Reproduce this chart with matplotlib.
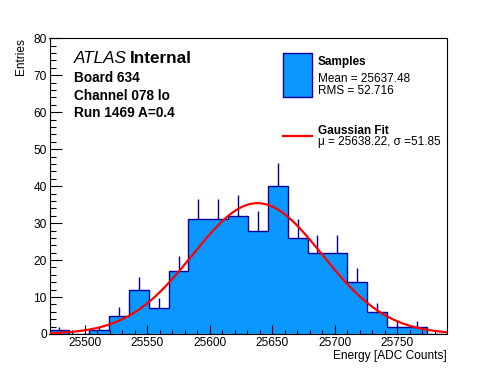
import numpy as np
import matplotlib
matplotlib.use("Agg")
import matplotlib.pyplot as plt
from matplotlib.ticker import MultipleLocator
from matplotlib.patches import Rectangle
from matplotlib.lines import Line2D

# ---- data ----
x_min = 25471.6
x_max = 25789.6
counts = [1, 0, 1, 5, 12, 7, 17, 31, 31, 32, 28, 40, 26, 22, 22, 14, 6, 2, 2, 0]
fit_mu = 25638.22
fit_sigma = 51.85
fit_amp = 35.4
y_max = 80

title_lines = ["Board 634", "Channel 078 lo", "Run 1469 A=0.4"]
legend_samples = ["Samples", "Mean = 25637.48", "RMS = 52.716"]
legend_fit = ["Gaussian Fit", "\u03bc = 25638.22, \u03c3 =51.85"]
xlabel = "Energy [ADC Counts]"
ylabel = "Entries"

FILL = "#0a98ff"
EDGE = "#000099"
RED = "#ff0000"
FONT = "Liberation Sans"

W, H = 496, 372
fig = plt.figure(figsize=(W / 100, H / 100), dpi=100)
L, R, T, B = 49.5, 446.5, 38.3, 334.0
ax = fig.add_axes([L / W, 1 - B / H, (R - L) / W, (B - T) / H])

counts = np.array(counts, dtype=float)
edges = np.linspace(x_min, x_max, len(counts) + 1)
centers = 0.5 * (edges[:-1] + edges[1:])

ax.stairs(counts, edges, fill=True, color=FILL, lw=0, zorder=1)
ax.stairs(counts, edges, color=EDGE, lw=1.0, zorder=2)
errs = np.sqrt(counts)
mask = counts > 0
ax.vlines(centers[mask], counts[mask], counts[mask] + errs[mask], color=EDGE, lw=1.0, zorder=2)

xs = np.linspace(x_min, x_max, 400)
ax.plot(xs, fit_amp * np.exp(-0.5 * ((xs - fit_mu) / fit_sigma) ** 2), color=RED, lw=1.6, zorder=3)

ax.set_xlim(x_min, x_max)
ax.set_ylim(0, y_max)
ax.xaxis.set_major_locator(MultipleLocator(50))
ax.xaxis.set_minor_locator(MultipleLocator(10))
ax.yaxis.set_major_locator(MultipleLocator(10))
ax.yaxis.set_minor_locator(MultipleLocator(2))
ax.tick_params(axis="both", which="both", direction="in", width=0.8, labelsize=8.6)
ax.tick_params(axis="x", which="major", length=6.4, pad=2.2)
ax.tick_params(axis="x", which="minor", length=3.2)
ax.tick_params(axis="y", which="major", length=8.6, pad=2.0)
ax.tick_params(axis="y", which="minor", length=4.3)
for lab in ax.get_xticklabels() + ax.get_yticklabels():
    lab.set_family(FONT)
for s in ax.spines.values():
    s.set_linewidth(0.8)


def px(x, y):
    return x / W, 1 - y / H


fig.text(*px(446.5, 359), xlabel, ha="right", va="baseline", fontsize=8.6, family=FONT)
fig.text(*px(21, 38.3), ylabel, ha="center", va="top", rotation=90, fontsize=8.6, family=FONT)

# ATLAS label
t = fig.text(*px(73.5, 63), "ATLAS", ha="left", va="baseline", fontsize=12.3, family=FONT, style="italic")
fig.canvas.draw()
bb = t.get_window_extent()
fig.text(bb.x1 / W + 4 / W, 1 - 63 / H, "Internal", ha="left", va="baseline", fontsize=12.3,
         family=FONT, weight="bold")
for i, line in enumerate(title_lines):
    fig.text(*px(74, 82 + 17.5 * i), line, ha="left", va="baseline", fontsize=9.8, family=FONT, weight="bold")

# legend
fig.patches.append(Rectangle(px(283.3, 96.7), 28.4 / W, 43.4 / H, transform=fig.transFigure,
                             facecolor=FILL, edgecolor=EDGE, lw=1.0))
fig.lines.append(Line2D([283.3 / W, 311.7 / W], [1 - 135.7 / H] * 2, transform=fig.transFigure,
                        color=RED, lw=1.6))
fig.text(*px(317.7, 65), legend_samples[0], ha="left", va="baseline", fontsize=8.5, family=FONT, weight="bold")
fig.text(*px(317.7, 81.5), legend_samples[1], ha="left", va="baseline", fontsize=8.5, family=FONT)
fig.text(*px(317.7, 94.3), legend_samples[2], ha="left", va="baseline", fontsize=8.5, family=FONT)
fig.text(*px(317.7, 134), legend_fit[0], ha="left", va="baseline", fontsize=8.5, family=FONT, weight="bold")
fig.text(*px(317.7, 145.5), legend_fit[1], ha="left", va="baseline", fontsize=8.5, family=FONT)

fig.savefig("out.png", dpi=100)
